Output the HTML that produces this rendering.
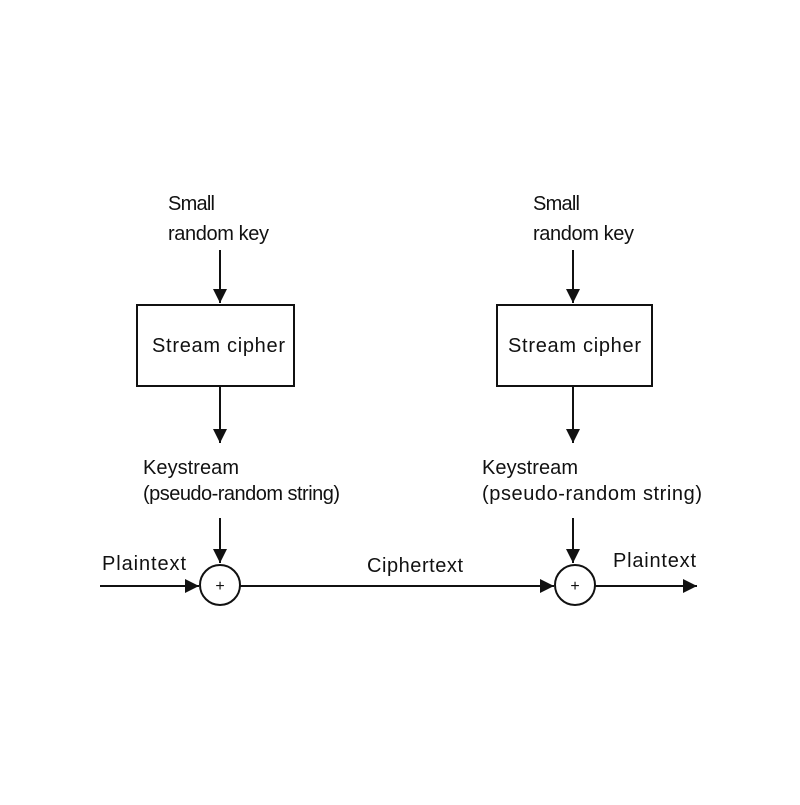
<!DOCTYPE html>
<html><head><style>
body{margin:0;background:#fff}
svg text{font-family:"Liberation Sans",sans-serif;font-size:20px;fill:#111}
</style></head><body>
<svg width="800" height="800" xmlns="http://www.w3.org/2000/svg">
<defs><marker id="b" markerWidth="12" markerHeight="14" refX="14" refY="7" orient="auto" markerUnits="userSpaceOnUse"><path d="M0,0 L14,7 L0,14 z" fill="#111"/></marker></defs>
<g stroke="#111" stroke-width="2" fill="none">
<line x1="220" y1="250" x2="220" y2="303" marker-end="url(#b)"/>
<rect x="137" y="305" width="157" height="81"/>
<line x1="220" y1="386" x2="220" y2="443" marker-end="url(#b)"/>
<line x1="220" y1="518" x2="220" y2="563" marker-end="url(#b)"/>
<circle cx="220" cy="585" r="20"/>
<line x1="100" y1="586" x2="199" y2="586" marker-end="url(#b)"/>
<line x1="240" y1="586" x2="554" y2="586" marker-end="url(#b)"/>
<line x1="573" y1="250" x2="573" y2="303" marker-end="url(#b)"/>
<rect x="497" y="305" width="155" height="81"/>
<line x1="573" y1="386" x2="573" y2="443" marker-end="url(#b)"/>
<line x1="573" y1="518" x2="573" y2="563" marker-end="url(#b)"/>
<circle cx="575" cy="585" r="20"/>
<line x1="595" y1="586" x2="697" y2="586" marker-end="url(#b)"/>
</g>
<text x="220" y="591" text-anchor="middle" style="font-size:16px">+</text>
<text x="575" y="591" text-anchor="middle" style="font-size:16px">+</text>
<text x="168" y="210" textLength="47">Small</text>
<text x="168" y="240" textLength="101">random key</text>
<text x="152" y="352" textLength="133">Stream cipher</text>
<text x="143" y="474" textLength="96">Keystream</text>
<text x="143" y="500" textLength="197">(pseudo-random string)</text>
<text x="102" y="570" textLength="84">Plaintext</text>
<text x="367" y="572" textLength="96">Ciphertext</text>
<text x="533" y="210" textLength="47">Small</text>
<text x="533" y="240" textLength="101">random key</text>
<text x="508" y="352" textLength="133">Stream cipher</text>
<text x="482" y="474" textLength="96">Keystream</text>
<text x="482" y="500" textLength="220">(pseudo-random string)</text>
<text x="613" y="567" textLength="83">Plaintext</text>
</svg>
</body></html>
